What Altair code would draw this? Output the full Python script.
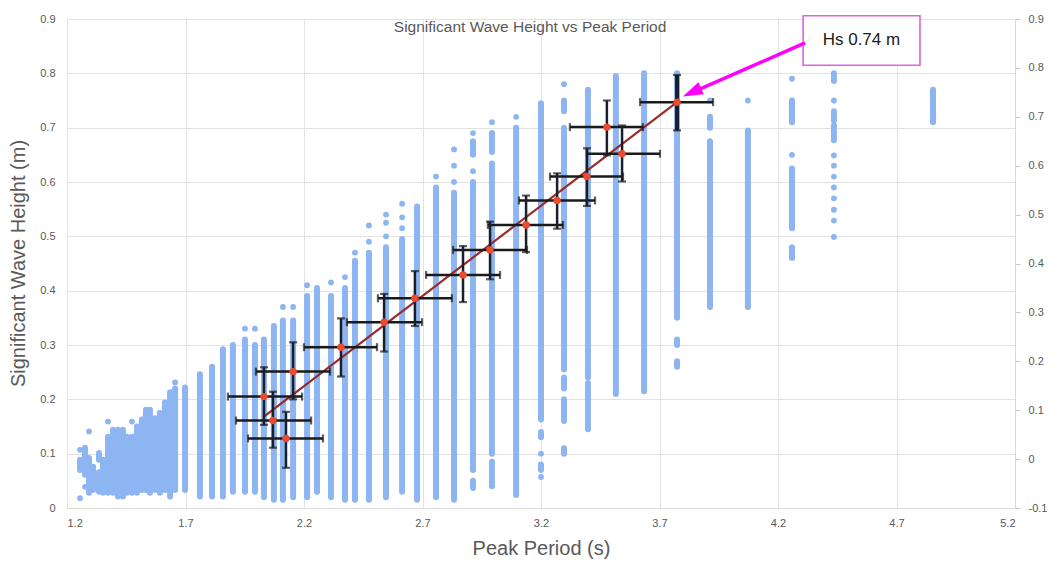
import altair as alt
import pandas as pd

# ---------------- data ----------------
# Blue observation columns: vertical runs of dots (period, Hs from, Hs to)
seg_x = [1.255, 1.276, 1.293, 1.310, 1.335, 1.335, 1.352, 1.373, 1.394, 1.415,
         1.436, 1.453, 1.474, 1.495, 1.516, 1.533, 1.550, 1.571, 1.592, 1.613,
         1.635, 1.656, 1.698, 1.761, 1.812, 1.858, 1.900, 1.951, 1.993, 2.031,
         2.073, 2.111, 2.154, 2.213, 2.255, 2.314, 2.373, 2.415, 2.474, 2.546,
         2.614, 2.677, 2.757, 2.833, 2.913, 2.913, 2.913, 2.993, 2.993, 2.993,
         3.095, 3.200, 3.200, 3.200, 3.297, 3.297, 3.297, 3.297, 3.297, 3.398,
         3.398, 3.516, 3.635, 3.774, 3.774, 3.774, 3.913, 3.913, 4.073, 4.259,
         4.259, 4.259, 4.436, 4.436, 4.436, 4.854]
seg_lo = [0.070, 0.061, 0.028, 0.033, 0.089, 0.030, 0.028, 0.028, 0.028, 0.021,
          0.021, 0.028, 0.028, 0.028, 0.033, 0.033, 0.028, 0.033, 0.028, 0.033,
          0.021, 0.033, 0.033, 0.021, 0.021, 0.021, 0.030, 0.030, 0.030, 0.020,
          0.015, 0.015, 0.020, 0.020, 0.030, 0.020, 0.015, 0.015, 0.015, 0.020,
          0.030, 0.015, 0.020, 0.015, 0.650, 0.070, 0.037, 0.655, 0.100, 0.040,
          0.024, 0.163, 0.130, 0.070, 0.730, 0.255, 0.220, 0.160, 0.100, 0.240,
          0.145, 0.210, 0.215, 0.350, 0.300, 0.260, 0.700, 0.370, 0.370, 0.710,
          0.515, 0.460, 0.786, 0.713, 0.677, 0.710]
seg_hi = [0.089, 0.111, 0.092, 0.076, 0.101, 0.066, 0.089, 0.131, 0.144, 0.144,
          0.144, 0.131, 0.131, 0.150, 0.163, 0.181, 0.181, 0.165, 0.175, 0.194,
          0.213, 0.220, 0.222, 0.246, 0.260, 0.292, 0.300, 0.310, 0.300, 0.310,
          0.335, 0.345, 0.345, 0.390, 0.405, 0.390, 0.405, 0.455, 0.470, 0.480,
          0.495, 0.555, 0.590, 0.580, 0.675, 0.600, 0.050, 0.690, 0.634, 0.085,
          0.700, 0.745, 0.140, 0.080, 0.750, 0.700, 0.240, 0.200, 0.110, 0.770,
          0.230, 0.795, 0.800, 0.800, 0.310, 0.270, 0.720, 0.675, 0.695, 0.750,
          0.625, 0.480, 0.800, 0.730, 0.704, 0.770]

# isolated single dots (period, Hs)
dot_x = [1.255, 1.255, 1.276, 1.293, 1.373, 1.474, 1.656, 1.951, 1.993, 2.111,
         2.154, 2.213, 2.314, 2.373, 2.415, 2.474, 2.474, 2.546, 2.546, 2.546,
         2.614, 2.614, 2.614, 2.757, 2.833, 2.833, 2.833, 2.913, 2.913, 2.993,
         3.095, 3.200, 3.200, 3.297, 3.913, 4.073, 4.259, 4.259, 4.436, 4.436,
         4.436, 4.436, 4.436, 4.436, 4.436, 4.436, 4.436]
dot_y = [0.107, 0.018, 0.039, 0.141, 0.159, 0.159, 0.231, 0.330, 0.330, 0.370,
         0.370, 0.410, 0.415, 0.425, 0.470, 0.520, 0.490, 0.540, 0.525, 0.500,
         0.560, 0.535, 0.515, 0.610, 0.660, 0.630, 0.600, 0.690, 0.620, 0.710,
         0.720, 0.100, 0.057, 0.780, 0.750, 0.750, 0.790, 0.650, 0.750, 0.649,
         0.630, 0.610, 0.590, 0.570, 0.549, 0.529, 0.499]

# binned means (red) with their error bars
mean_x = [2.031, 2.069, 2.124, 2.154, 2.356, 2.538, 2.668, 2.871, 2.985, 3.137,
          3.268, 3.394, 3.478, 3.542, 3.774]
mean_y = [0.205, 0.161, 0.128, 0.251, 0.296, 0.342, 0.386, 0.429, 0.475, 0.521,
          0.566, 0.610, 0.701, 0.652, 0.747]
err_x_lo = [1.879, 1.913, 1.964, 1.997, 2.200, 2.381, 2.512, 2.715, 2.829, 2.976,
            3.107, 3.238, 3.322, 3.394, 3.618]
err_x_hi = [2.192, 2.230, 2.280, 2.310, 2.508, 2.698, 2.824, 3.027, 3.141, 3.293,
            3.428, 3.546, 3.630, 3.702, 3.926]
err_y_lo = [0.153, 0.111, 0.074, 0.200, 0.242, 0.288, 0.335, 0.379, 0.421, 0.471,
            0.514, 0.556, 0.649, 0.601, 0.695]
err_y_hi = [0.259, 0.214, 0.177, 0.305, 0.349, 0.394, 0.436, 0.482, 0.527, 0.575,
            0.616, 0.662, 0.750, 0.704, 0.797]

# linear trend line end points
trend_x = [2.031, 3.774]
trend_y = [0.168, 0.747]

x_ticks = [1.2, 1.7, 2.2, 2.7, 3.2, 3.7, 4.2, 4.7, 5.2]
y_ticks = [0, 0.1, 0.2, 0.3, 0.4, 0.5, 0.6, 0.7, 0.8, 0.9]
y2_ticks = [-0.1, 0, 0.1, 0.2, 0.3, 0.4, 0.5, 0.6, 0.7, 0.8, 0.9]

chart_title = "Significant Wave Height vs Peak Period"
title_pos = [3.154, 0.885]
note_text = "Hs 0.74 m"
note_box = [4.306, 4.799, 0.815, 0.906]      # x from, x to, y from, y to
note_text_pos = [4.552, 0.861]
arrow_from = [4.314, 0.856]
arrow_to = [3.860, 0.769]
arrow_head = [3.837, 0.765]

# ---------------- styling ----------------
GRAY = "#595959"
GRID = "#E3E3E3"
BLUE = "#8DB5F2"
LABEL_FONT = "Liberation Sans Narrow, Liberation Sans, Arial, sans-serif"
TITLE_FONT = "Liberation Sans, Arial, sans-serif"

XS = alt.Scale(domain=[1.2, 5.2], nice=False, zero=False)
YS = alt.Scale(domain=[0, 0.9], nice=False, zero=False)

x_axis = alt.Axis(values=x_ticks, format=".1f", title="Peak Period (s)",
                  grid=True, gridColor=GRID, domain=True, domainColor="#D9D9D9",
                  ticks=False, labelFont=LABEL_FONT, labelFontSize=11,
                  labelColor=GRAY, labelPadding=9, titleFont=TITLE_FONT,
                  titleFontSize=20, titleFontWeight="normal", titleColor=GRAY,
                  titleY=40, titleBaseline="middle")
y_axis = alt.Axis(values=y_ticks, format="~g", title="Significant Wave Height (m)",
                  grid=True, gridColor=GRID, domain=False, ticks=False,
                  labelFont=LABEL_FONT, labelFontSize=11, labelColor=GRAY,
                  labelPadding=12, titleFont=TITLE_FONT, titleFontSize=20,
                  titleFontWeight="normal", titleColor=GRAY, titleX=-49,
                  titleY=244, titleBaseline="middle", titleAngle=270)


def xe(field):
    return alt.X(f"{field}:Q", scale=XS, axis=x_axis)


def ye(field):
    return alt.Y(f"{field}:Q", scale=YS, axis=y_axis)


segs = pd.DataFrame({"x": seg_x, "lo": seg_lo, "hi": seg_hi})
dots = pd.DataFrame({"x": dot_x, "y": dot_y})
means = pd.DataFrame({"mx": mean_x, "my": mean_y, "xlo": err_x_lo, "xhi": err_x_hi,
                      "ylo": err_y_lo, "yhi": err_y_hi})
trend = pd.DataFrame({"x": trend_x, "y": trend_y})

blue_runs = alt.Chart(segs).mark_rule(color=BLUE, strokeWidth=6, strokeCap="round").encode(
    x=xe("x"), y=ye("lo"), y2="hi:Q")
blue_dots = alt.Chart(dots).mark_circle(color=BLUE, size=34, opacity=1).encode(
    x=xe("x"), y=ye("y"))

trend_line = alt.Chart(trend).mark_line(color="#992B2B", strokeWidth=2.2).encode(
    x=xe("x"), y=ye("y"))

hbars = alt.Chart(means).mark_rule(color="#1A1A1A", strokeWidth=2.5).encode(
    x=xe("xlo"), x2="xhi:Q", y=ye("my"))
vbars = alt.Chart(means).mark_rule(color="#1A1F2B").encode(
    x=xe("mx"), y=ye("ylo"), y2="yhi:Q",
    strokeWidth=alt.condition(alt.datum.my > 0.74, alt.value(4), alt.value(2.5)))

hcap_l = alt.Chart(means).mark_tick(orient="vertical", color="#1A1A1A", size=8, thickness=2.2).encode(
    x=xe("xlo"), y=ye("my"))
hcap_r = alt.Chart(means).mark_tick(orient="vertical", color="#1A1A1A", size=8, thickness=2.2).encode(
    x=xe("xhi"), y=ye("my"))
vcap_b = alt.Chart(means).mark_tick(orient="horizontal", color="#1A1A1A", size=8, thickness=2.2).encode(
    x=xe("mx"), y=ye("ylo"))
vcap_t = alt.Chart(means).mark_tick(orient="horizontal", color="#1A1A1A", size=8, thickness=2.2).encode(
    x=xe("mx"), y=ye("yhi"))

red = alt.Chart(means).mark_circle(color="#EE4A2C", size=55, opacity=1).encode(
    x=xe("mx"), y=ye("my"))

title_df = pd.DataFrame({"x": [title_pos[0]], "y": [title_pos[1]], "t": [chart_title]})
title_mark = alt.Chart(title_df).mark_text(font=TITLE_FONT, fontSize=15.5, color=GRAY).encode(
    x=xe("x"), y=ye("y"), text="t:N")

box_df = pd.DataFrame({"x": [note_box[0]], "x2": [note_box[1]], "y": [note_box[2]], "y2": [note_box[3]]})
box = alt.Chart(box_df).mark_rect(fill="white", stroke="#E062E0", strokeWidth=1.6).encode(
    x=xe("x"), x2="x2:Q", y=ye("y"), y2="y2:Q")
note_df = pd.DataFrame({"x": [note_text_pos[0]], "y": [note_text_pos[1]], "t": [note_text]})
note = alt.Chart(note_df).mark_text(font=TITLE_FONT, fontSize=17, color="#1A1A1A").encode(
    x=xe("x"), y=ye("y"), text="t:N")

arrow_df = pd.DataFrame({"x": [arrow_from[0]], "x2": [arrow_to[0]], "y": [arrow_from[1]], "y2": [arrow_to[1]]})
arrow = alt.Chart(arrow_df).mark_rule(color="#FF00FF", strokeWidth=3.5).encode(
    x=xe("x"), x2="x2:Q", y=ye("y"), y2="y2:Q")
head_df = pd.DataFrame({"x": [arrow_head[0]], "y": [arrow_head[1]]})
head = alt.Chart(head_df).mark_point(shape="M0,-1L0.65,1L-0.65,1Z", filled=True, size=400,
                                     angle=245.6, color="#FF00FF", opacity=1).encode(
    x=xe("x"), y=ye("y"))

main = alt.layer(blue_runs, blue_dots, trend_line, hbars, vbars, hcap_l, hcap_r,
                 vcap_b, vcap_t, red, title_mark, box, note, arrow, head)

right_df = pd.DataFrame({"x": [1.2, 1.2], "y": [-0.1, 0.9]})
right = alt.Chart(right_df).mark_point(opacity=0).encode(
    x=xe("x"),
    y=alt.Y("y:Q", scale=alt.Scale(domain=[-0.1, 0.9], nice=False, zero=False),
            axis=alt.Axis(orient="right", values=y2_ticks, format="~g", title="",
                          labelExpr="replace(datum.label, '\u2212', '-')",
                          grid=False, domain=True, domainColor="#D9D9D9",
                          ticks=True, tickColor="#C8C8C8", tickSize=5,
                          labelFont=LABEL_FONT, labelFontSize=11, labelColor=GRAY,
                          labelPadding=8)))

chart = alt.layer(main, right).resolve_scale(y="independent").properties(
    width=948, height=489,
    autosize=alt.AutoSizeParams(type="none"),
    padding={"left": 67, "top": 19, "right": 38, "bottom": 57},
    background="white",
).configure_view(strokeWidth=0)

chart.save("out.html", embed_options={"renderer": "svg", "actions": False})
